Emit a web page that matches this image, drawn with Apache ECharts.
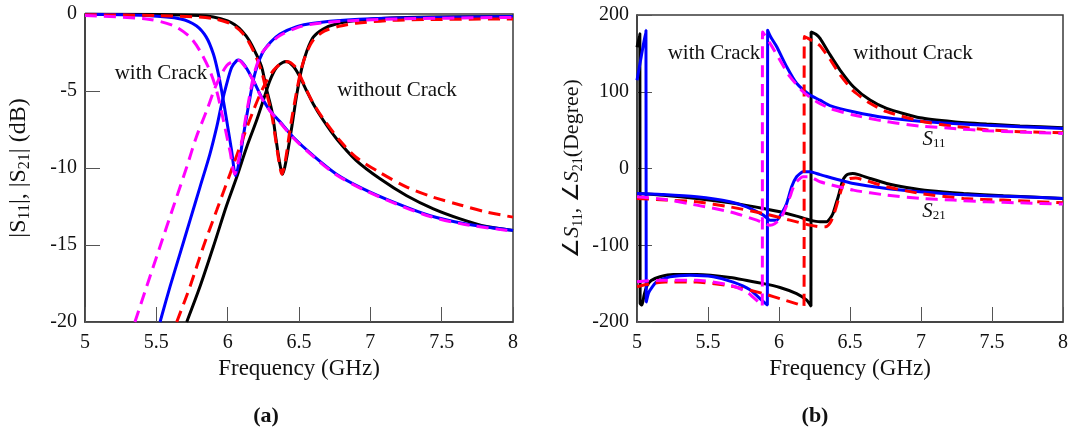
<!DOCTYPE html>
<html>
	<head>
		<meta charset="utf-8">
		<title>S11 / S21 with and without crack</title>
		<script src="https://cdn.jsdelivr.net/npm/echarts@6/dist/echarts.min.js"></script>
		<style type="text/css">
			html, body {
				margin: 0;
				padding: 0;
				background: #fff;
			}

			#main {
				width: 1083px;
				height: 432px;
			}
		</style>
	</head>

	<body>
		<div id="main"></div>

		<script>
			// x axis ticks (GHz)
			var freqTicks = [5, 5.5, 6, 6.5, 7, 7.5, 8];
			var magTicks = [-20, -15, -10, -5, 0];
			var phaseTicks = [-200, -100, 0, 100, 200];

			// (a) |S11| |S21| in dB, [freq, dB]
			var magS11NoCrack = [[5.0, 0], [5.5, -0.03], [5.8, -0.1], [5.9, -0.2], [6.0, -0.45], [6.05, -0.7], [6.1, -1.1], [6.15, -1.7], [6.2, -2.6], [6.24, -3.5], [6.27, -4.8], [6.31, -6.3], [6.34, -8.2], [6.365, -9.7], [6.385, -10.4], [6.41, -9.5], [6.45, -7.3], [6.485, -5.2], [6.52, -3.5], [6.555, -2.4], [6.6, -1.5], [6.67, -0.97], [6.76, -0.65], [6.9, -0.43], [7.14, -0.26], [7.42, -0.2], [8.0, -0.17]];
			var magS21NoCrack = [[5.713, -20], [5.806, -17.7], [5.9, -15.1], [5.99, -12.5], [6.063, -10.6], [6.133, -8.65], [6.203, -6.9], [6.25, -5.6], [6.297, -4.3], [6.343, -3.46], [6.39, -3.13], [6.41, -3.09], [6.46, -3.4], [6.507, -4.1], [6.554, -5.0], [6.6, -5.84], [6.67, -6.9], [6.763, -8.1], [6.9, -9.5], [7.068, -10.7], [7.255, -11.8], [7.442, -12.65], [7.63, -13.3], [7.815, -13.8], [8.0, -14.05]];
			var magS11NoCrackB = [[5.0, -0.05], [5.5, -0.1], [5.8, -0.2], [5.9, -0.3], [6.0, -0.55], [6.05, -0.8], [6.1, -1.2], [6.15, -1.85], [6.2, -2.8], [6.24, -3.8], [6.27, -5.0], [6.31, -6.6], [6.34, -8.4], [6.36, -9.6], [6.38, -10.4], [6.405, -9.5], [6.44, -7.3], [6.48, -5.2], [6.515, -3.6], [6.55, -2.6], [6.6, -1.7], [6.68, -1.1], [6.78, -0.8], [6.9, -0.6], [7.14, -0.42], [7.42, -0.36], [8.0, -0.32]];
			var magS21NoCrackB = [[5.643, -20], [5.736, -17.7], [5.83, -15.1], [5.923, -12.75], [6.016, -10.4], [6.11, -8.0], [6.18, -6.27], [6.25, -4.76], [6.32, -3.67], [6.39, -3.13], [6.42, -3.1], [6.47, -3.4], [6.51, -4.05], [6.554, -4.95], [6.6, -5.8], [6.67, -6.8], [6.785, -8.2], [6.9, -9.3], [7.068, -10.3], [7.255, -11.24], [7.442, -11.9], [7.63, -12.4], [7.815, -12.86], [8.0, -13.19]];
			var magS11Crack = [[5.0, -0.02], [5.43, -0.1], [5.67, -0.32], [5.78, -0.76], [5.85, -1.5], [5.9, -2.6], [5.935, -3.9], [5.958, -5.0], [5.993, -6.9], [6.028, -8.9], [6.056, -10.5], [6.086, -9.3], [6.12, -7.35], [6.157, -5.4], [6.19, -3.9], [6.24, -2.6], [6.3, -1.84], [6.367, -1.3], [6.484, -0.82], [6.6, -0.6], [6.836, -0.39], [7.2, -0.26], [8.0, -0.17]];
			var magS21Crack = [[5.526, -20], [5.596, -17.7], [5.666, -15.56], [5.736, -13.4], [5.806, -11.24], [5.876, -9.08], [5.923, -7.35], [5.958, -5.84], [5.993, -4.54], [6.028, -3.46], [6.063, -3.03], [6.078, -2.98], [6.12, -3.35], [6.18, -4.32], [6.238, -5.4], [6.297, -6.27], [6.367, -7.0], [6.46, -8.0], [6.6, -9.2], [6.763, -10.4], [6.95, -11.35], [7.185, -12.3], [7.42, -13.1], [7.654, -13.6], [8.0, -14.05]];
			var magS11CrackB = [[5.0, -0.1], [5.43, -0.32], [5.62, -0.76], [5.736, -1.5], [5.806, -2.4], [5.876, -3.7], [5.923, -5.0], [5.97, -6.9], [6.016, -8.9], [6.05, -10.4], [6.08, -9.3], [6.115, -7.35], [6.152, -5.4], [6.185, -3.9], [6.235, -2.6], [6.3, -1.9], [6.367, -1.4], [6.484, -0.9], [6.6, -0.65], [6.836, -0.45], [7.2, -0.32], [8.0, -0.22]];
			var magS21CrackB = [[5.35, -20], [5.432, -17.7], [5.526, -15.1], [5.62, -12.5], [5.713, -9.94], [5.78, -8.0], [5.853, -6.27], [5.923, -4.54], [5.993, -3.35], [6.05, -3.03], [6.075, -3.0], [6.12, -3.4], [6.18, -4.35], [6.238, -5.45], [6.297, -6.3], [6.367, -7.05], [6.46, -8.05], [6.6, -9.25], [6.763, -10.45], [6.95, -11.4], [7.185, -12.35], [7.42, -13.15], [7.654, -13.65], [8.0, -14.1]];

			// (b) phase in degree, [freq, deg]
			var phS11NoCrack = [[5.0, 158], [5.02, 176], [5.022, -176], [5.035, -178], [5.05, -165], [5.07, -153], [5.1, -146], [5.162, -141], [5.256, -138], [5.42, -138], [5.655, -142], [5.89, -150], [6.007, -155], [6.124, -163], [6.195, -171.6], [6.225, -179], [6.226, 178], [6.26, 175], [6.289, 169.6], [6.36, 148], [6.43, 128.3], [6.524, 106.5], [6.641, 89.1], [6.758, 78.3], [6.993, 66], [7.228, 61], [7.462, 58], [7.697, 55.5], [8.0, 53]];
			var phS21NoCrack = [[5.0, -32.5], [5.185, -34.7], [5.42, -39], [5.655, -44.7], [5.89, -52], [6.007, -56.4], [6.124, -62], [6.218, -67.3], [6.289, -69.5], [6.335, -69.4], [6.36, -65], [6.38, -58.6], [6.4, -47], [6.417, -36.8], [6.435, -24], [6.45, -15], [6.47, -9.5], [6.488, -7.3], [6.52, -6.4], [6.56, -8], [6.641, -13], [6.758, -19.5], [6.899, -24.7], [7.063, -29], [7.3, -32.5], [7.58, -35.5], [8.0, -39]];
			var phS11NoCrackB = [[5.0, -154], [5.1, -150], [5.2, -148], [5.42, -148], [5.655, -153], [5.89, -163], [6.03, -171], [6.12, -176], [6.176, -179.5], [6.178, 172], [6.2, 170], [6.25, 165], [6.289, 160], [6.36, 142], [6.43, 122], [6.524, 101], [6.641, 85], [6.758, 74], [6.993, 62], [7.228, 55], [7.462, 50.5], [7.697, 48], [8.0, 46.5]];
			var phS21NoCrackB = [[5.0, -39], [5.2, -41], [5.42, -43.4], [5.655, -50], [5.89, -58.6], [6.077, -67.3], [6.218, -73.8], [6.289, -76], [6.33, -76], [6.36, -71], [6.38, -63], [6.4, -52], [6.417, -41], [6.435, -30], [6.45, -21.6], [6.475, -15], [6.5, -13], [6.54, -12.5], [6.6, -15], [6.758, -23.8], [6.993, -32.5], [7.3, -39], [7.58, -41.2], [8.0, -44.7]];
			var phS11Crack = [[5.0, 115], [5.03, 146], [5.063, 180], [5.065, -174], [5.08, -163], [5.092, -158.5], [5.138, -147.7], [5.232, -141.2], [5.373, -139], [5.537, -141], [5.678, -148], [5.796, -158], [5.878, -171.6], [5.918, -178], [5.92, 180], [5.94, 172], [5.984, 158.7], [6.054, 132.6], [6.124, 111], [6.218, 95.7], [6.289, 89], [6.359, 82], [6.524, 74], [6.758, 66], [6.993, 61.5], [7.228, 58.5], [7.462, 56.3], [7.697, 54.4], [8.0, 52.2]];
			var phS21Crack = [[5.0, -32.5], [5.185, -33.8], [5.42, -36.9], [5.655, -43.4], [5.772, -50], [5.89, -60.8], [5.937, -67.3], [5.984, -67.3], [6.02, -58], [6.054, -45.5], [6.089, -23.8], [6.124, -10.8], [6.17, -4.3], [6.218, -4.3], [6.289, -8], [6.524, -19.5], [6.758, -26], [6.993, -30.3], [7.228, -33.4], [7.462, -35.5], [7.697, -36.9], [8.0, -39]];
			var phS11CrackB = [[5.0, -147.7], [5.06, -146.5], [5.185, -145.5], [5.42, -145.5], [5.655, -152], [5.772, -160.7], [5.854, -173.8], [5.882, -179], [5.884, 178], [5.937, 163], [6.007, 141], [6.077, 119.6], [6.17, 100], [6.265, 87], [6.359, 78.3], [6.524, 69.7], [6.758, 61], [6.993, 55.3], [7.228, 52.2], [7.462, 49.2], [7.697, 47.5], [8.0, 45.7]];
			var phS21CrackB = [[5.0, -36.9], [5.185, -40], [5.42, -47.7], [5.655, -56.4], [5.843, -67.3], [5.937, -73.8], [5.97, -72], [6.0, -67], [6.03, -58.6], [6.054, -48], [6.077, -36.9], [6.1, -25], [6.124, -17.3], [6.17, -10.8], [6.22, -11], [6.289, -17.3], [6.524, -28.2], [6.758, -34.7], [6.993, -39], [7.228, -41.2], [7.462, -43.4], [7.697, -44.7], [8.0, -46.4]];

			var serif = '"Liberation Serif", "Times New Roman", serif';
			var frameColor = '#3a3a3a';

			var chart = echarts.init(document.getElementById('main'), null, {
				renderer: 'canvas'
			});

			// 一条曲线
			function curve(name, data, color, dashed, grid, smooth) {
				return {
					name: name,
					type: 'line',
					xAxisIndex: grid,
					yAxisIndex: grid,
					data: data,
					showSymbol: false,
					animation: false,
					smooth: smooth,
					clip: true,
					lineStyle: {
						color: color,
						width: 3,
						type: dashed ? [12, 7] : 'solid'
					}
				};
			}

			function xAxis(grid) {
				return {
					type: 'value',
					gridIndex: grid,
					min: freqTicks[0],
					max: freqTicks[freqTicks.length - 1],
					interval: 0.5,
					name: 'Frequency (GHz)',
					nameLocation: 'middle',
					nameGap: 35,
					nameTextStyle: {
						fontFamily: serif,
						fontSize: 23,
						color: '#111'
					},
					axisLine: {
						onZero: false,
						lineStyle: {
							color: frameColor,
							width: 1.5
						}
					},
					axisTick: {
						inside: true,
						length: 15,
						lineStyle: {
							color: '#555',
							width: 1
						}
					},
					axisLabel: {
						margin: 11,
						fontFamily: serif,
						fontSize: 20,
						color: '#111'
					},
					splitLine: {
						show: false
					}
				};
			}

			// 轴名称的上下标样式
			function nameRich(size, subSize) {
				return {
					n: {
						fontFamily: serif,
						fontSize: size,
						color: '#111'
					},
					it: {
						fontFamily: serif,
						fontSize: size,
						fontStyle: 'italic',
						color: '#111'
					},
					sub: {
						fontFamily: serif,
						fontSize: subSize,
						color: '#111',
						padding: [Math.round(size / 2), 0, 0, 0]
					}
				};
			}

			function yAxis(grid, ticks, name, size, subSize) {
				return {
					type: 'value',
					gridIndex: grid,
					min: ticks[0],
					max: ticks[ticks.length - 1],
					interval: ticks[1] - ticks[0],
					name: name,
					nameLocation: 'middle',
					nameRotate: 90,
					nameGap: 52,
					nameTextStyle: {
						fontFamily: serif,
						fontSize: size,
						color: '#111',
						rich: nameRich(size, subSize)
					},
					axisLine: {
						onZero: false,
						lineStyle: {
							color: frameColor,
							width: 1.5
						}
					},
					axisTick: {
						inside: true,
						length: 15,
						lineStyle: {
							color: '#555',
							width: 1
						}
					},
					axisLabel: {
						margin: 8,
						fontFamily: serif,
						fontSize: 20,
						color: '#111'
					},
					splitLine: {
						show: false
					}
				};
			}

			function note(x, y, text, size, bold) {
				return {
					type: 'text',
					x: x,
					y: y,
					silent: true,
					style: {
						text: text,
						fill: '#111',
						font: (bold ? 'bold ' : '') + size + 'px ' + serif,
						align: 'center',
						verticalAlign: 'middle',
						rich: {
							it: {
								fontFamily: serif,
								fontSize: size,
								fontStyle: 'italic'
							},
							sub: {
								fontFamily: serif,
								fontSize: 13,
								padding: [10, 0, 0, 0]
							}
						}
					}
				};
			}

			chart.setOption({
				backgroundColor: '#fff',
				animation: false,
				grid: [{
					left: 85,
					top: 14,
					width: 428,
					height: 308,
					show: true,
					borderColor: frameColor,
					borderWidth: 1.5,
					backgroundColor: 'transparent'
				}, {
					left: 637,
					top: 15,
					width: 426,
					height: 307,
					show: true,
					borderColor: frameColor,
					borderWidth: 1.5,
					backgroundColor: 'transparent'
				}],
				xAxis: [xAxis(0), xAxis(1)],
				yAxis: [
					yAxis(0, magTicks, '{n||S}{sub|11}{n||, |S}{sub|21}{n|| (dB)}', 24, 16),
					yAxis(1, phaseTicks, '{n|∠}{it|S}{sub|11}{n|, ∠}{it|S}{sub|21}{n|(Degree)}', 22, 14)
				],
				series: [
					curve('S11 no crack', magS11NoCrack, '#000', false, 0, 0.3),
					curve('S21 no crack', magS21NoCrack, '#000', false, 0, 0.3),
					curve('S11 crack', magS11Crack, '#0000ff', false, 0, 0.3),
					curve('S21 crack', magS21Crack, '#0000ff', false, 0, 0.3),
					curve('S11 no crack B', magS11NoCrackB, '#ff0000', true, 0, 0.3),
					curve('S21 no crack B', magS21NoCrackB, '#ff0000', true, 0, 0.3),
					curve('S11 crack B', magS11CrackB, '#ff00ff', true, 0, 0.3),
					curve('S21 crack B', magS21CrackB, '#ff00ff', true, 0, 0.3),

					curve('ph S11 no crack', phS11NoCrack, '#000', false, 1, 0.2),
					curve('ph S21 no crack', phS21NoCrack, '#000', false, 1, 0.2),
					curve('ph S11 crack', phS11Crack, '#0000ff', false, 1, 0.2),
					curve('ph S21 crack', phS21Crack, '#0000ff', false, 1, 0.2),
					curve('ph S11 no crack B', phS11NoCrackB, '#ff0000', true, 1, 0.2),
					curve('ph S21 no crack B', phS21NoCrackB, '#ff0000', true, 1, 0.2),
					curve('ph S11 crack B', phS11CrackB, '#ff00ff', true, 1, 0.2),
					curve('ph S21 crack B', phS21CrackB, '#ff00ff', true, 1, 0.2)
				],
				graphic: [
					note(161, 73, 'with Crack', 21),
					note(397, 90, 'without Crack', 21),
					note(714, 53, 'with Crack', 21),
					note(913, 53, 'without Crack', 21),
					note(934, 139, '{it|S}{sub|11}', 21),
					note(934, 211, '{it|S}{sub|21}', 21),
					note(266, 416, '(a)', 22, true),
					note(815, 416, '(b)', 22, true)
				]
			});
		</script>
	</body>
</html>
